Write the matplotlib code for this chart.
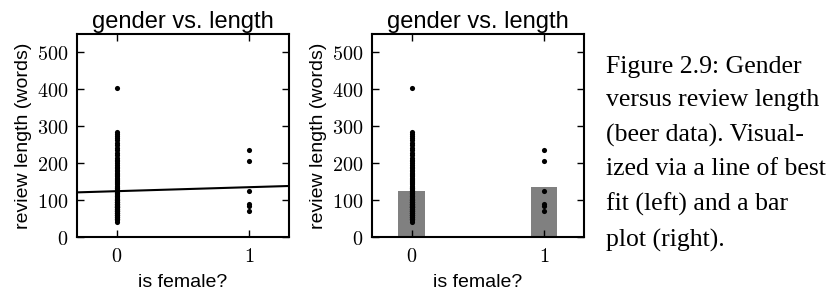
import numpy as np
import matplotlib
matplotlib.use("Agg")
import matplotlib.pyplot as plt

# ---- data ----
male_lengths = [42, 45, 48, 50, 52, 55, 57,
                60, 62, 64, 66, 68, 70, 72, 74, 76, 78, 80, 82, 84, 86, 88, 90, 92, 94,
                96, 98, 100, 102, 104, 106, 108, 110, 112, 114, 116, 118, 120, 122, 124,
                126, 128, 130, 132, 134, 136, 138,
                143, 146, 149, 152, 155, 158, 161, 164, 167,
                170, 174, 178, 182, 186, 190, 195, 200, 205, 210,
                215, 222, 228, 235, 242, 248, 255, 262, 268, 275, 280, 285, 405,
                50, 55, 60, 65, 70, 75, 80, 85, 90, 95,
                55, 60, 65, 70, 75, 80, 85, 90, 95, 100,
                60, 70, 80, 90, 100]
female_lengths = [235, 205, 125, 90, 85, 70]
groups = [0, 1]
xticklabels = ["0", "1"]
yticks = [0, 100, 200, 300, 400, 500]
title = "gender vs. length"
xlabel = "is female?"
ylabel = "review length (words)"
caption = ("Figure 2.9: Gender\nversus review length\n(beer data). Visual-\n"
           "ized via a line of best\nfit (left) and a bar\nplot (right).")

plt.rcParams['mathtext.fontset'] = 'cm'
sans = ['Liberation Sans', 'DejaVu Sans']

fig = plt.figure(figsize=(8.35, 2.93), dpi=100)
ax1 = fig.add_axes([0.0922, 0.1911, 0.2539, 0.6928])
ax2 = fig.add_axes([0.4455, 0.1911, 0.2539, 0.6928])

x_all = np.array([0] * len(male_lengths) + [1] * len(female_lengths), dtype=float)
y_all = np.array(male_lengths + female_lengths, dtype=float)
xlim = (-0.3, 1.3)


def style(ax):
    ax.set_xlim(*xlim)
    ax.set_ylim(0, 550)
    ax.set_xticks(groups)
    ax.set_xticklabels([r"$%s$" % t for t in xticklabels])
    ax.set_yticks(yticks)
    ax.set_yticklabels([r"$%d$" % t for t in yticks])
    ax.tick_params(direction='in', top=True, right=True, length=5, width=1,
                   labelsize=14.5, pad=6)
    ax.tick_params(axis='x', pad=7)
    for s in ax.spines.values():
        s.set_linewidth(1.5)
    ax.set_title(title, fontsize=17, family=sans, pad=4)
    ax.set_xlabel(xlabel, fontsize=14, family=sans, labelpad=6)
    ax.set_ylabel(ylabel, fontsize=14, family=sans, labelpad=4)


# left: scatter + best-fit line
ax1.plot(x_all, y_all, 'o', color='black', markersize=3.7, markeredgewidth=0, zorder=3)
slope, intercept = np.polyfit(x_all, y_all, 1)
xs = np.array(xlim)
ax1.plot(xs, intercept + slope * xs, color='black', linewidth=1.5, zorder=4)
style(ax1)

# right: bar of means + scatter
means = [np.mean(male_lengths), np.mean(female_lengths)]
ax2.bar(groups, means, width=0.2, color='#808080', edgecolor='none', zorder=1)
ax2.plot(x_all, y_all, 'o', color='black', markersize=3.7, markeredgewidth=0, zorder=3)
style(ax2)

fig.text(0.7257, 0.81, caption, fontsize=18.5, family=['Liberation Serif', 'DejaVu Serif'],
         va='top', ha='left', linespacing=1.69)

fig.savefig("out.png", dpi=100)
